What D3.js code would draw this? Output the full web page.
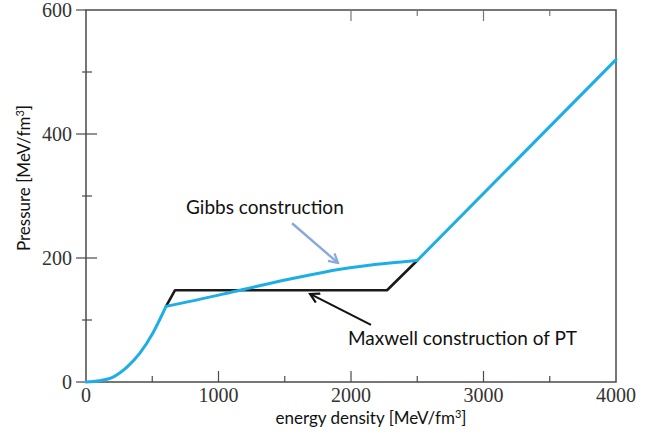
<!DOCTYPE html>
<html>
<head>
<meta charset="utf-8">
<script src="https://cdn.jsdelivr.net/npm/d3@7"></script>
<style>
  body { margin: 0; background: #fff; }
  .tick-label { font-family: "Liberation Serif", "Times New Roman", serif; font-size: 20px; fill: #333; }
  .axis-title { font-family: Lato, "Open Sans", sans-serif; font-size: 17px; fill: #111; }
  .note { font-family: Lato, "Open Sans", sans-serif; font-size: 19px; fill: #111; }
</style>
</head>
<body>
<svg id="chart"></svg>
<script>
// Gibbs construction (blue), split at the phase boundaries so the kinks stay sharp
const hadronE = [0, 100, 204, 309, 408, 507, 604];
const hadronP = [0, 2, 8, 24, 47, 80, 122];
const mixedE = [604, 785, 1162, 1540, 1917, 2294, 2500];
const mixedP = [122, 130, 148, 166, 182, 192, 196];
const quarkE = [2500, 4000];
const quarkP = [196, 520];

// Maxwell construction of PT (black)
const maxwellE = [604, 672, 2272, 2500];
const maxwellP = [122, 148, 148, 196];

const xMajor = [0, 1000, 2000, 3000, 4000];
const xMinor = [500, 1500, 2500, 3500];
const xTopTicks = [2000, 2500, 3000, 3500];
const yMajor = [0, 200, 400, 600];
const yMinor = [100, 300, 500];

// annotations: [text, x, y] and arrows [x1, y1, x2, y2] in data units
const gibbsNote = ['Gibbs construction', 755, 271];
const gibbsArrow = [1555, 256, 1902, 192];
const maxwellNote = ['Maxwell construction of PT', 1977, 60];
const maxwellArrow = [2151, 92, 1691, 142];

const config = {
  width: 660, height: 434,
  margin: {top: 10, right: 44, bottom: 52, left: 86}
};
const width = config.width - config.margin.left - config.margin.right;
const height = config.height - config.margin.top - config.margin.bottom;

const svg = d3.select('#chart')
    .attr('width', config.width)
    .attr('height', config.height);

const defs = svg.append('defs');
function arrowMarker(id, color) {
  defs.append('marker')
      .attr('id', id)
      .attr('viewBox', '0 0 12 12')
      .attr('refX', 10).attr('refY', 6)
      .attr('markerWidth', 12).attr('markerHeight', 12)
      .attr('markerUnits', 'userSpaceOnUse')
      .attr('orient', 'auto')
    .append('path')
      .attr('d', 'M1,1 L10,6 L1,11')
      .attr('fill', 'none')
      .attr('stroke', color)
      .attr('stroke-width', 2.2)
      .attr('stroke-linejoin', 'miter');
}
arrowMarker('arrow-blue', '#87a9dc');
arrowMarker('arrow-black', '#111');

const chart = svg.append('g')
    .attr('transform', `translate(${config.margin.left},${config.margin.top})`);

const xScale = d3.scaleLinear().domain([0, 4000]).range([0, width]);
const yScale = d3.scaleLinear().domain([0, 600]).range([height, 0]);

const axisColor = '#4a4a4a';

// frame
chart.append('rect')
    .attr('width', width).attr('height', height)
    .attr('fill', 'none')
    .attr('stroke', axisColor)
    .attr('stroke-width', 1.5);

// bottom ticks (inward)
chart.selectAll('.xmaj')
    .data(xMajor.filter(d => d > 0 && d < 4000))
  .join('line')
    .attr('x1', d => xScale(d)).attr('x2', d => xScale(d))
    .attr('y1', height).attr('y2', height - 11)
    .attr('stroke', axisColor).attr('stroke-width', 1.2);
chart.selectAll('.xmin')
    .data(xMinor)
  .join('line')
    .attr('x1', d => xScale(d)).attr('x2', d => xScale(d))
    .attr('y1', height).attr('y2', height - 6)
    .attr('stroke', axisColor).attr('stroke-width', 1.2);

// top ticks (inward)
chart.selectAll('.xtop')
    .data(xTopTicks)
  .join('line')
    .attr('x1', d => xScale(d)).attr('x2', d => xScale(d))
    .attr('y1', 0).attr('y2', d => d % 1000 === 0 ? 11 : 6)
    .attr('stroke', '#777').attr('stroke-width', 1.2);

// left ticks
chart.selectAll('.ymaj')
    .data(yMajor)
  .join('line')
    .attr('x1', -10).attr('x2', d => (d === 0 || d === 600) ? 0 : 11)
    .attr('y1', d => yScale(d)).attr('y2', d => yScale(d))
    .attr('stroke', axisColor).attr('stroke-width', 1.2);
chart.selectAll('.ymin')
    .data(yMinor)
  .join('line')
    .attr('x1', -4).attr('x2', 6)
    .attr('y1', d => yScale(d)).attr('y2', d => yScale(d))
    .attr('stroke', axisColor).attr('stroke-width', 1.2);

// tick labels
chart.selectAll('.xlab')
    .data(xMajor)
  .join('text')
    .attr('class', 'tick-label')
    .attr('x', d => xScale(d))
    .attr('y', height + 20)
    .attr('text-anchor', 'middle')
    .text(d => d);
chart.selectAll('.ylab')
    .data(yMajor)
  .join('text')
    .attr('class', 'tick-label')
    .attr('x', -14)
    .attr('y', d => yScale(d) + 7)
    .attr('text-anchor', 'end')
    .text(d => d);

// axis titles
chart.append('text')
    .attr('class', 'axis-title')
    .attr('x', width / 2 + 20)
    .attr('y', height + 42)
    .attr('text-anchor', 'middle')
    .html('energy density [MeV/fm<tspan dy="-6" font-size="11">3</tspan><tspan dy="6">]</tspan>');
chart.append('text')
    .attr('class', 'axis-title')
    .attr('transform', `translate(${-56},${height / 2 - 18}) rotate(-90)`)
    .attr('text-anchor', 'middle')
    .html('Pressure [MeV/fm<tspan dy="-6" font-size="11">3</tspan><tspan dy="6">]</tspan>');

// curves
const line = d3.line()
    .x(d => xScale(d[0]))
    .y(d => yScale(d[1]));
const zip = (a, b) => a.map((v, i) => [v, b[i]]);

chart.append('path')
    .datum(zip(maxwellE, maxwellP))
    .attr('d', line.curve(d3.curveLinear))
    .attr('fill', 'none')
    .attr('stroke', '#1a1a1a')
    .attr('stroke-width', 2.6)
    .attr('stroke-linejoin', 'round');

const blue = '#1eaee6';
[zip(hadronE, hadronP), zip(mixedE, mixedP), zip(quarkE, quarkP)].forEach(seg => {
  chart.append('path')
      .datum(seg)
      .attr('d', line.curve(d3.curveMonotoneX))
      .attr('fill', 'none')
      .attr('stroke', blue)
      .attr('stroke-width', 3)
      .attr('stroke-linecap', 'round');
});

// annotations
chart.append('text')
    .attr('class', 'note')
    .attr('x', xScale(gibbsNote[1]))
    .attr('y', yScale(gibbsNote[2]))
    .text(gibbsNote[0]);
chart.append('line')
    .attr('x1', xScale(gibbsArrow[0])).attr('y1', yScale(gibbsArrow[1]))
    .attr('x2', xScale(gibbsArrow[2])).attr('y2', yScale(gibbsArrow[3]))
    .attr('stroke', '#87a9dc').attr('stroke-width', 2.4)
    .attr('marker-end', 'url(#arrow-blue)');

chart.append('text')
    .attr('class', 'note')
    .attr('x', xScale(maxwellNote[1]))
    .attr('y', yScale(maxwellNote[2]))
    .text(maxwellNote[0]);
chart.append('line')
    .attr('x1', xScale(maxwellArrow[0])).attr('y1', yScale(maxwellArrow[1]))
    .attr('x2', xScale(maxwellArrow[2])).attr('y2', yScale(maxwellArrow[3]))
    .attr('stroke', '#111').attr('stroke-width', 2)
    .attr('marker-end', 'url(#arrow-black)');
</script>
</body>
</html>
